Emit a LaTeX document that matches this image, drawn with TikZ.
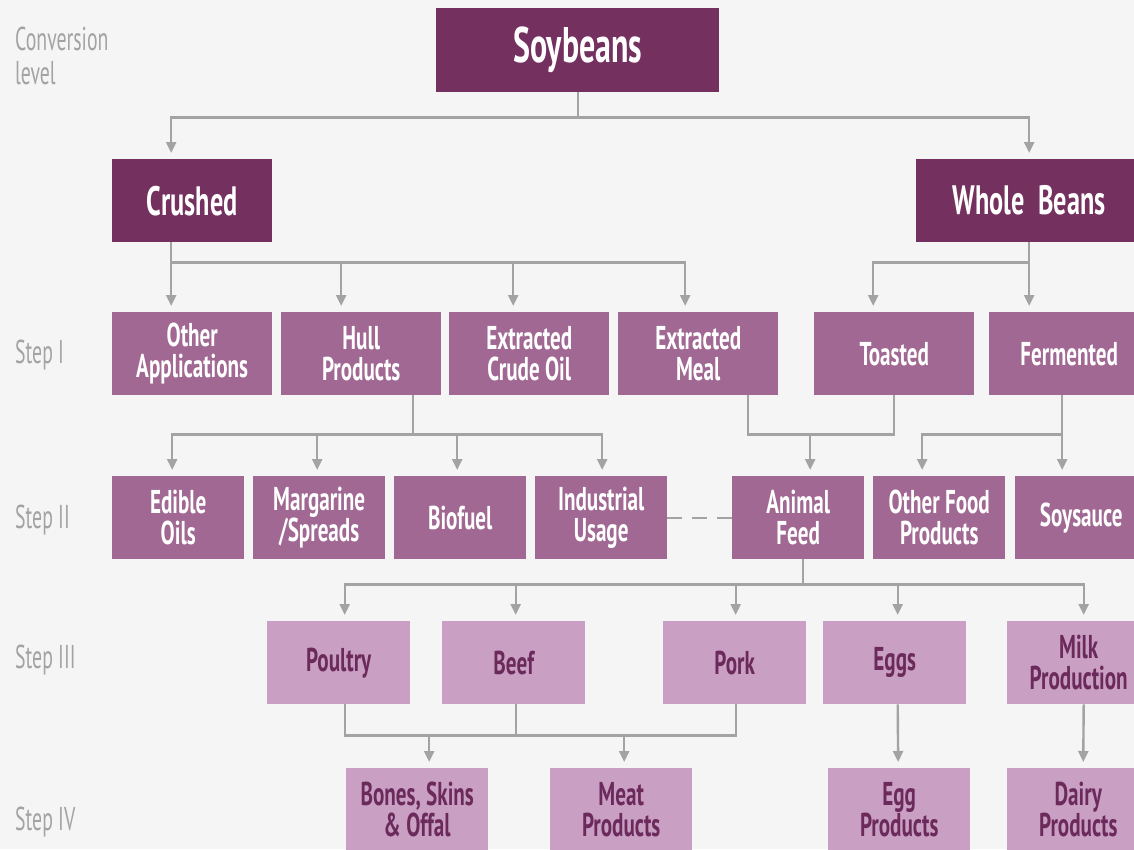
\documentclass[tikz,border=0pt]{standalone}
\usepackage{fontspec}
\setmainfont{PT Sans}[FakeStretch=0.64]
\newfontfamily\labelfont{PT Sans}[FakeStretch=0.6]
\usetikzlibrary{arrows.meta}

\definecolor{bgGray}{HTML}{F5F5F5}
\definecolor{plumDark}{HTML}{74305F}
\definecolor{plumMid}{HTML}{A06892}
\definecolor{plumLight}{HTML}{C9A0C4}
\definecolor{plumText}{HTML}{6B2A5B}
\definecolor{lineGray}{HTML}{A3A3A3}
\definecolor{labelGray}{HTML}{A3A3A3}

\begin{document}
\begin{tikzpicture}[
        x=1pt, y=-1pt,
        box/.style={anchor=north west, inner sep=0pt, align=center},
        topbox/.style={box, fill=plumDark, text=white, minimum height=83pt,
            font=\bfseries\fontsize{41}{44}\selectfont},
        stepbox/.style={box, fill=plumMid, text=white, minimum height=83pt,
            font=\bfseries\fontsize{33}{31}\selectfont},
        leafbox/.style={box, fill=plumLight, text=plumText, minimum height=83pt,
            minimum width=143pt, font=\bfseries\fontsize{33}{31}\selectfont},
        lvllabel/.style={anchor=west, inner sep=0pt, text=labelGray, align=left,
            font=\labelfont\fontsize{33}{34}\selectfont},
        link/.style={draw=lineGray, line width=2.4pt},
        arr/.style={link, -{Triangle[length=11pt,width=10pt]}, shorten >=6pt},
    ]
        \useasboundingbox (0,0) rectangle (1134,849);
        \clip (0,0) rectangle (1134,849);
        \fill[bgGray] (0,0) rectangle (1134,849);

        % level labels
        \node[lvllabel, anchor=north west] (lconv) at (15,27) {Conversion\\level};
        \node[lvllabel] (lstep1) at (15,355) {Step I};
        \node[lvllabel] (lstep2) at (15,520) {Step II};
        \node[lvllabel] (lstep3) at (15,660) {Step III};
        \node[lvllabel] (lstep4) at (15,822) {Step IV};

        % top levels
        \node[topbox, minimum width=283pt, minimum height=84pt,
              font=\bfseries\fontsize{50}{52}\selectfont] (soy) at (436,8) {Soybeans};
        \node[topbox, minimum width=160pt] (crushed) at (112,159) {Crushed};
        \node[topbox, minimum width=226pt] (whole) at (916,159) {Whole\ \ Beans};

        % step I
        \node[stepbox, minimum width=160pt] (other) at (112,312) {Other\\Applications};
        \node[stepbox, minimum width=160pt] (hull) at (281,312) {Hull\\Products};
        \node[stepbox, minimum width=160pt] (crude) at (449,312) {Extracted\\Crude Oil};
        \node[stepbox, minimum width=160pt] (meal) at (618,312) {Extracted\\Meal};
        \node[stepbox, minimum width=160pt] (toasted) at (814,312) {Toasted};
        \node[stepbox, minimum width=160pt] (fermented) at (989,312) {Fermented};

        % step II
        \node[stepbox, minimum width=132pt] (edible) at (112,476) {Edible\\Oils};
        \node[stepbox, minimum width=132pt] (margarine) at (253,476) {Margarine\\/Spreads};
        \node[stepbox, minimum width=132pt] (biofuel) at (394,476) {Biofuel};
        \node[stepbox, minimum width=132pt] (industrial) at (535,476) {Industrial\\Usage};
        \node[stepbox, minimum width=132pt] (animal) at (732,476) {Animal\\Feed};
        \node[stepbox, minimum width=132pt] (otherfood) at (873,476) {Other Food\\Products};
        \node[stepbox, minimum width=132pt] (soysauce) at (1015,476) {Soysauce};

        % step III
        \node[leafbox] (poultry) at (267,621) {Poultry};
        \node[leafbox] (beef) at (442,621) {Beef};
        \node[leafbox] (pork) at (663,621) {Pork};
        \node[leafbox] (eggs) at (823,621) {Eggs};
        \node[leafbox] (milk) at (1007,621) {Milk\\Production};

        % step IV
        \node[leafbox, minimum width=142pt] (bones) at (346,768) {Bones, Skins\\\& Offal};
        \node[leafbox, minimum width=142pt] (meat) at (550,768) {Meat\\Products};
        \node[leafbox, minimum width=142pt] (eggprod) at (828,768) {Egg\\Products};
        \node[leafbox, minimum width=142pt] (dairy) at (1007,768) {Dairy\\Products};

        % soybeans split
        \draw[link] (soy.south) -- ++(0,25) coordinate (busSoy);
        \draw[arr] (busSoy) -| ([xshift=-21pt]crushed.north);
        \draw[arr] (busSoy) -| (whole.north);

        % crushed branch
        \draw[link] ([xshift=-21pt]crushed.south) -- ++(0,20) coordinate (busCr);
        \draw[arr] (busCr) -- ([xshift=-21pt]other.north);
        \draw[arr] (busCr) -| ([xshift=-20pt]hull.north);
        \draw[arr] (busCr) -| ([xshift=-16pt]crude.north);
        \draw[arr] (busCr) -| ([xshift=-13pt]meal.north);

        % whole beans branch
        \draw[link] (whole.south) -- ++(0,20) coordinate (busWb);
        \draw[arr] (busWb) -| ([xshift=-21pt]toasted.north);
        \draw[arr] (busWb) -- ([xshift=-40pt]fermented.north);

        % hull products
        \draw[link] ([xshift=52pt]hull.south) -- ++(0,39) coordinate (busHu);
        \draw[arr] (busHu) -| ([xshift=-6pt]edible.north);
        \draw[arr] (busHu) -| ([xshift=-2pt]margarine.north);
        \draw[arr] (busHu) -| ([xshift=-3pt]biofuel.north);
        \draw[arr] (busHu) -| ([xshift=1pt]industrial.north);

        % meal and toasted to feed
        \draw[link] ([xshift=50pt]meal.south) -- ++(0,39) coordinate (busMe)
            -| (toasted.south);
        \draw[arr] ([xshift=12pt]animal.north |- busMe) -- ([xshift=12pt]animal.north);

        % fermented
        \draw[link] ([xshift=-7pt]fermented.south) -- ++(0,39) coordinate (busFe);
        \draw[arr] (busFe) -| ([xshift=-17pt]otherfood.north);
        \draw[arr] (busFe) -- ([xshift=-19pt]soysauce.north);

        \draw[link, dash pattern=on 15pt off 10pt] (industrial.east) -- (animal.west);

        % animal feed
        \draw[link] ([xshift=5pt]animal.south) -- ++(0,25) coordinate (busAn);
        \draw[arr] (busAn) -| ([xshift=6pt]poultry.north);
        \draw[arr] (busAn) -| ([xshift=2pt]beef.north);
        \draw[arr] (busAn) -| ([xshift=1pt]pork.north);
        \draw[arr] (busAn) -| ([xshift=3pt]eggs.north);
        \draw[arr] (busAn) -| ([xshift=5pt]milk.north);

        % meats
        \draw[link] ([xshift=6pt]poultry.south) -- ++(0,31) coordinate (busMt)
            -| ([xshift=1pt]pork.south);
        \draw[link] ([xshift=2pt]beef.south) -- ++(0,31);
        \draw[arr] (busMt) -| ([xshift=12pt]bones.north);
        \draw[arr] (busMt) -| ([xshift=3pt]meat.north);

        \draw[arr] ([xshift=3pt]eggs.south) -- ([xshift=-1pt]eggprod.north);
        \draw[arr] ([xshift=5pt]milk.south) -- ([xshift=5pt]dairy.north);
    \end{tikzpicture}
\end{document}
